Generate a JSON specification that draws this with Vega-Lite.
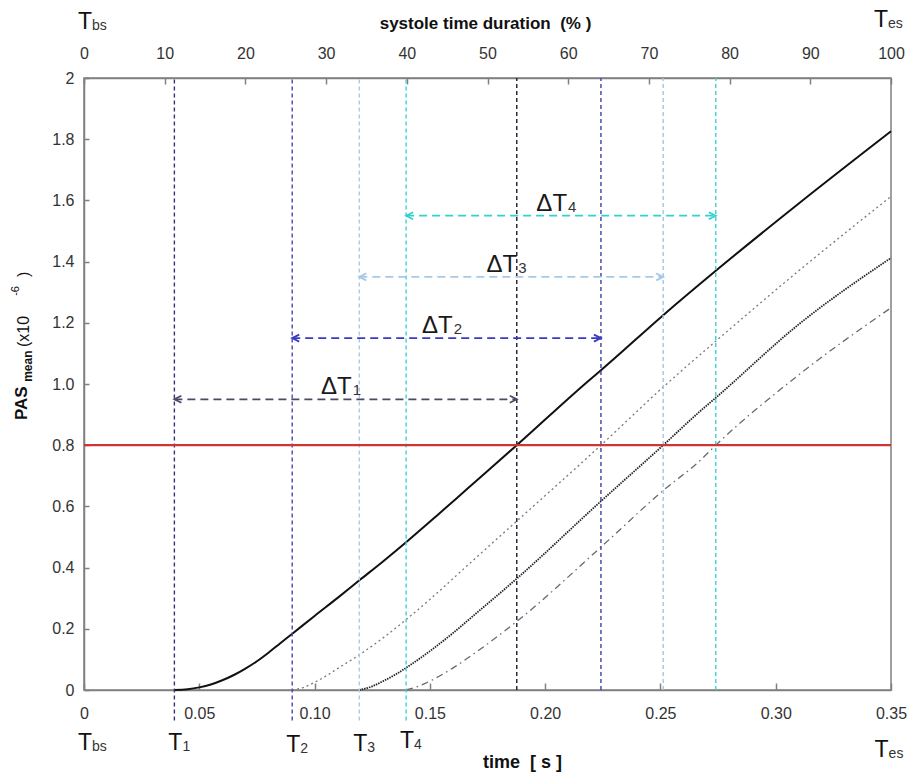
{
  "$schema": "https://vega.github.io/schema/vega-lite/v6.json",
  "width": 807,
  "height": 612,
  "autosize": {"type": "none"},
  "padding": {"left": 84, "top": 78, "right": 21, "bottom": 84},
  "background": "white",
  "config": {"font": "Liberation Sans", "view": {"stroke": "#808080", "strokeWidth": 1.5}},
  "datasets": {
    "curves": [
      {"c": "c1", "t": 0.0392, "v": 0}, {"c": "c1", "t": 0.045, "v": 0.0025}, {"c": "c1", "t": 0.05, "v": 0.0086},
      {"c": "c1", "t": 0.055, "v": 0.018}, {"c": "c1", "t": 0.06, "v": 0.032}, {"c": "c1", "t": 0.065, "v": 0.049},
      {"c": "c1", "t": 0.07, "v": 0.07}, {"c": "c1", "t": 0.075, "v": 0.094}, {"c": "c1", "t": 0.08, "v": 0.122},
      {"c": "c1", "t": 0.085, "v": 0.152}, {"c": "c1", "t": 0.0902, "v": 0.183}, {"c": "c1", "t": 0.1, "v": 0.242},
      {"c": "c1", "t": 0.11, "v": 0.301}, {"c": "c1", "t": 0.1197, "v": 0.36}, {"c": "c1", "t": 0.1298, "v": 0.421},
      {"c": "c1", "t": 0.1397, "v": 0.483}, {"c": "c1", "t": 0.1529, "v": 0.569}, {"c": "c1", "t": 0.166, "v": 0.656},
      {"c": "c1", "t": 0.1877, "v": 0.8}, {"c": "c1", "t": 0.2195, "v": 1.015}, {"c": "c1", "t": 0.2242, "v": 1.045},
      {"c": "c1", "t": 0.2512, "v": 1.225}, {"c": "c1", "t": 0.274, "v": 1.37}, {"c": "c1", "t": 0.31, "v": 1.59},
      {"c": "c1", "t": 0.35, "v": 1.826},
      {"c": "c2", "t": 0.0903, "v": 0}, {"c": "c2", "t": 0.095, "v": 0.008}, {"c": "c2", "t": 0.1, "v": 0.025},
      {"c": "c2", "t": 0.105, "v": 0.046}, {"c": "c2", "t": 0.11, "v": 0.07}, {"c": "c2", "t": 0.12, "v": 0.118},
      {"c": "c2", "t": 0.13, "v": 0.172}, {"c": "c2", "t": 0.14, "v": 0.232}, {"c": "c2", "t": 0.15, "v": 0.296},
      {"c": "c2", "t": 0.166, "v": 0.405}, {"c": "c2", "t": 0.1877, "v": 0.552}, {"c": "c2", "t": 0.2242, "v": 0.8},
      {"c": "c2", "t": 0.2512, "v": 0.99}, {"c": "c2", "t": 0.274, "v": 1.14}, {"c": "c2", "t": 0.31, "v": 1.37},
      {"c": "c2", "t": 0.35, "v": 1.613},
      {"c": "c3", "t": 0.1194, "v": 0}, {"c": "c3", "t": 0.125, "v": 0.012}, {"c": "c3", "t": 0.13, "v": 0.03},
      {"c": "c3", "t": 0.135, "v": 0.05}, {"c": "c3", "t": 0.14, "v": 0.074}, {"c": "c3", "t": 0.15, "v": 0.127},
      {"c": "c3", "t": 0.16, "v": 0.186}, {"c": "c3", "t": 0.17, "v": 0.25}, {"c": "c3", "t": 0.1877, "v": 0.364},
      {"c": "c3", "t": 0.2242, "v": 0.617}, {"c": "c3", "t": 0.2512, "v": 0.8}, {"c": "c3", "t": 0.2672, "v": 0.911},
      {"c": "c3", "t": 0.274, "v": 0.955}, {"c": "c3", "t": 0.31, "v": 1.195}, {"c": "c3", "t": 0.35, "v": 1.412},
      {"c": "c4", "t": 0.1397, "v": 0}, {"c": "c4", "t": 0.145, "v": 0.012}, {"c": "c4", "t": 0.1503, "v": 0.03},
      {"c": "c4", "t": 0.1596, "v": 0.07}, {"c": "c4", "t": 0.1703, "v": 0.125}, {"c": "c4", "t": 0.1877, "v": 0.224},
      {"c": "c4", "t": 0.2242, "v": 0.467}, {"c": "c4", "t": 0.2512, "v": 0.652}, {"c": "c4", "t": 0.2672, "v": 0.75},
      {"c": "c4", "t": 0.274, "v": 0.8}, {"c": "c4", "t": 0.31, "v": 1.03}, {"c": "c4", "t": 0.35, "v": 1.249}
    ],
    "vlines": [
      {"id": "T1", "t": 0.0392, "v": -0.1, "v2": 2}, {"id": "T2", "t": 0.0903, "v": -0.1, "v2": 2},
      {"id": "T3", "t": 0.1194, "v": -0.1, "v2": 2}, {"id": "T4", "t": 0.1397, "v": -0.1, "v2": 2},
      {"id": "X1", "t": 0.1877, "v": 0, "v2": 2}, {"id": "X2", "t": 0.2242, "v": 0, "v2": 2},
      {"id": "X3", "t": 0.2512, "v": 0, "v2": 2}, {"id": "X4", "t": 0.274, "v": 0, "v2": 2}
    ],
    "arrows": [
      {"id": "A1", "s": "1", "t": 0.0392, "t2": 0.1877, "v": 0.95, "mid": 0.1135},
      {"id": "A2", "s": "2", "t": 0.0903, "t2": 0.2242, "v": 1.15, "mid": 0.1573},
      {"id": "A3", "s": "3", "t": 0.1194, "t2": 0.2512, "v": 1.35, "mid": 0.1853},
      {"id": "A4", "s": "4", "t": 0.1397, "t2": 0.274, "v": 1.55, "mid": 0.2069}
    ],
    "tlabels": [
      {"s": "bs", "t": 0, "v": -0.196}, {"s": "1", "t": 0.0392, "v": -0.196}, {"s": "2", "t": 0.0903, "v": -0.204},
      {"s": "3", "t": 0.1194, "v": -0.198}, {"s": "4", "t": 0.1397, "v": -0.19}, {"s": "es", "t": 0.3455, "v": -0.218},
      {"s": "bs", "t": 0, "v": 2.16}, {"s": "es", "t": 0.3452, "v": 2.166}
    ]
  },
  "layer": [
    {
      "layer": [
        {
          "data": {"name": "curves"},
          "transform": [{"filter": "datum.c == 'c1'"}],
          "mark": {"type": "line", "color": "#111111", "strokeWidth": 2, "interpolate": "monotone"},
          "encoding": {
            "x": {"field": "t", "type": "quantitative", "scale": {"domain": [0, 0.35], "nice": false, "zero": false},
              "axis": {"orient": "bottom", "values": [0, 0.05, 0.1, 0.15, 0.2, 0.25, 0.3, 0.35],
                "labelExpr": "datum.value == 0 ? '0' : format(datum.value, '.2f')",
                "title": "time\u00a0\u00a0[ s ]", "titleFontSize": 18, "titleFontWeight": "bold", "titleColor": "#111111",
                "titleX": 438, "titleY": 77, "titleBaseline": "alphabetic", "titleAlign": "center",
                "tickSize": -7, "tickColor": "#808080", "tickWidth": 1.5, "domainColor": "#808080", "domainWidth": 1.5,
                "labelFontSize": 16, "labelColor": "#333333", "labelPadding": 22, "labelFlush": false, "labelOverlap": false, "grid": false}},
            "y": {"field": "v", "type": "quantitative", "scale": {"domain": [0, 2], "nice": false},
              "axis": {"orient": "left", "values": [0, 0.2, 0.4, 0.6, 0.8, 1, 1.2, 1.4, 1.6, 1.8, 2],
                "labelExpr": "datum.value == 0 ? '0' : datum.value == 2 ? '2' : format(datum.value, '.1f')",
                "title": null, "tickSize": -5, "tickColor": "#808080", "tickWidth": 1.5, "domainColor": "#808080", "domainWidth": 1.5,
                "labelFontSize": 16, "labelColor": "#333333", "labelPadding": 15, "labelFlush": false, "labelOverlap": false, "grid": false}}
          }
        },
        {
          "data": {"name": "curves"},
          "transform": [{"filter": "datum.c == 'c2'"}],
          "mark": {"type": "line", "color": "#7a7a7a", "strokeWidth": 1.3, "strokeDash": [2, 3], "interpolate": "monotone"},
          "encoding": {
            "x": {"field": "t", "type": "quantitative", "scale": {"domain": [0, 0.35], "nice": false, "zero": false}},
            "y": {"field": "v", "type": "quantitative", "scale": {"domain": [0, 2], "nice": false}}
          }
        },
        {
          "data": {"name": "curves"},
          "transform": [{"filter": "datum.c == 'c3'"}],
          "mark": {"type": "line", "color": "#222222", "strokeWidth": 1.8, "strokeDash": [1.5, 1], "interpolate": "monotone"},
          "encoding": {
            "x": {"field": "t", "type": "quantitative", "scale": {"domain": [0, 0.35], "nice": false, "zero": false}},
            "y": {"field": "v", "type": "quantitative", "scale": {"domain": [0, 2], "nice": false}}
          }
        },
        {
          "data": {"name": "curves"},
          "transform": [{"filter": "datum.c == 'c4'"}],
          "mark": {"type": "line", "color": "#6a6a6a", "strokeWidth": 1.3, "strokeDash": [7, 4, 1.5, 4], "interpolate": "monotone"},
          "encoding": {
            "x": {"field": "t", "type": "quantitative", "scale": {"domain": [0, 0.35], "nice": false, "zero": false}},
            "y": {"field": "v", "type": "quantitative", "scale": {"domain": [0, 2], "nice": false}}
          }
        },
        {
          "data": {"name": "vlines"},
          "mark": {"type": "rule", "strokeWidth": 1.4, "strokeDash": [4, 3]},
          "encoding": {
            "x": {"field": "t", "type": "quantitative", "scale": {"domain": [0, 0.35], "nice": false, "zero": false}},
            "y": {"field": "v", "type": "quantitative", "scale": {"domain": [0, 2], "nice": false}},
            "y2": {"field": "v2"},
            "color": {"field": "id", "type": "nominal", "legend": null,
              "scale": {"domain": ["T1", "T2", "T3", "T4", "X1", "X2", "X3", "X4", "A1", "A2", "A3", "A4"],
                "range": ["#34347a", "#4848b4", "#aacbe8", "#3fd4d4", "#1c1c30", "#4040aa", "#a4c6e6", "#3cd2d2", "#4a4a66", "#3a3ac4", "#a8c8e8", "#33d0d0"]}}
          }
        },
        {
          "data": {"values": [{"v": 0.8}]},
          "mark": {"type": "rule", "color": "#d03535", "strokeWidth": 2.2},
          "encoding": {
            "y": {"field": "v", "type": "quantitative", "scale": {"domain": [0, 2], "nice": false}}
          }
        },
        {
          "data": {"name": "arrows"},
          "mark": {"type": "rule", "strokeWidth": 1.8, "strokeDash": [8, 5]},
          "encoding": {
            "x": {"field": "t", "type": "quantitative", "scale": {"domain": [0, 0.35], "nice": false, "zero": false}},
            "x2": {"field": "t2"},
            "y": {"field": "v", "type": "quantitative", "scale": {"domain": [0, 2], "nice": false}},
            "color": {"field": "id", "type": "nominal", "legend": null,
              "scale": {"domain": ["T1", "T2", "T3", "T4", "X1", "X2", "X3", "X4", "A1", "A2", "A3", "A4"],
                "range": ["#34347a", "#4848b4", "#aacbe8", "#3fd4d4", "#1c1c30", "#4040aa", "#a4c6e6", "#3cd2d2", "#4a4a66", "#3a3ac4", "#a8c8e8", "#33d0d0"]}}
          }
        },
        {
          "data": {"name": "arrows"},
          "mark": {"type": "point", "shape": "M 1 -0.5 L 0 0 L 1 0.5", "filled": false, "strokeWidth": 1.8, "size": 196, "opacity": 1},
          "encoding": {
            "x": {"field": "t", "type": "quantitative", "scale": {"domain": [0, 0.35], "nice": false, "zero": false}},
            "y": {"field": "v", "type": "quantitative", "scale": {"domain": [0, 2], "nice": false}},
            "color": {"field": "id", "type": "nominal", "legend": null,
              "scale": {"domain": ["T1", "T2", "T3", "T4", "X1", "X2", "X3", "X4", "A1", "A2", "A3", "A4"],
                "range": ["#34347a", "#4848b4", "#aacbe8", "#3fd4d4", "#1c1c30", "#4040aa", "#a4c6e6", "#3cd2d2", "#4a4a66", "#3a3ac4", "#a8c8e8", "#33d0d0"]}}
          }
        },
        {
          "data": {"name": "arrows"},
          "mark": {"type": "point", "shape": "M -1 -0.5 L 0 0 L -1 0.5", "filled": false, "strokeWidth": 1.8, "size": 196, "opacity": 1},
          "encoding": {
            "x": {"field": "t2", "type": "quantitative", "scale": {"domain": [0, 0.35], "nice": false, "zero": false}},
            "y": {"field": "v", "type": "quantitative", "scale": {"domain": [0, 2], "nice": false}},
            "color": {"field": "id", "type": "nominal", "legend": null,
              "scale": {"domain": ["T1", "T2", "T3", "T4", "X1", "X2", "X3", "X4", "A1", "A2", "A3", "A4"],
                "range": ["#34347a", "#4848b4", "#aacbe8", "#3fd4d4", "#1c1c30", "#4040aa", "#a4c6e6", "#3cd2d2", "#4a4a66", "#3a3ac4", "#a8c8e8", "#33d0d0"]}}
          }
        },
        {
          "data": {"name": "arrows"},
          "mark": {"type": "text", "text": "ΔT", "align": "right", "baseline": "alphabetic", "dx": 6, "dy": -5, "fontSize": 24, "color": "#1a1a1a"},
          "encoding": {
            "x": {"field": "mid", "type": "quantitative", "scale": {"domain": [0, 0.35], "nice": false, "zero": false}},
            "y": {"field": "v", "type": "quantitative", "scale": {"domain": [0, 2], "nice": false}}
          }
        },
        {
          "data": {"name": "arrows"},
          "mark": {"type": "text", "align": "left", "baseline": "alphabetic", "dx": 7, "dy": -4, "fontSize": 15, "color": "#333333"},
          "encoding": {
            "x": {"field": "mid", "type": "quantitative", "scale": {"domain": [0, 0.35], "nice": false, "zero": false}},
            "y": {"field": "v", "type": "quantitative", "scale": {"domain": [0, 2], "nice": false}},
            "text": {"field": "s"}
          }
        },
        {
          "data": {"name": "tlabels"},
          "mark": {"type": "text", "text": "T", "align": "center", "baseline": "alphabetic", "dx": 1, "fontSize": 23, "color": "#111111"},
          "encoding": {
            "x": {"field": "t", "type": "quantitative", "scale": {"domain": [0, 0.35], "nice": false, "zero": false}},
            "y": {"field": "v", "type": "quantitative", "scale": {"domain": [0, 2], "nice": false}}
          }
        },
        {
          "data": {"name": "tlabels"},
          "mark": {"type": "text", "align": "left", "baseline": "alphabetic", "dx": 8, "dy": 1, "fontSize": 14, "color": "#333333"},
          "encoding": {
            "x": {"field": "t", "type": "quantitative", "scale": {"domain": [0, 0.35], "nice": false, "zero": false}},
            "y": {"field": "v", "type": "quantitative", "scale": {"domain": [0, 2], "nice": false}},
            "text": {"field": "s"}
          }
        },
        {
          "data": {"values": [{"t": -0.0247, "v": 0.882}]},
          "mark": {"type": "text", "text": "PAS", "angle": 270, "align": "left", "baseline": "alphabetic", "fontSize": 17, "fontWeight": "bold", "color": "#111111"},
          "encoding": {
            "x": {"field": "t", "type": "quantitative", "scale": {"domain": [0, 0.35], "nice": false, "zero": false}},
            "y": {"field": "v", "type": "quantitative", "scale": {"domain": [0, 2], "nice": false}}
          }
        },
        {
          "data": {"values": [{"t": -0.0226, "v": 1.007}]},
          "mark": {"type": "text", "text": "mean", "angle": 270, "align": "left", "baseline": "alphabetic", "fontSize": 12, "fontWeight": "bold", "color": "#111111"},
          "encoding": {
            "x": {"field": "t", "type": "quantitative", "scale": {"domain": [0, 0.35], "nice": false, "zero": false}},
            "y": {"field": "v", "type": "quantitative", "scale": {"domain": [0, 2], "nice": false}}
          }
        },
        {
          "data": {"values": [{"t": -0.0239, "v": 1.121}]},
          "mark": {"type": "text", "text": "(x10", "angle": 270, "align": "left", "baseline": "alphabetic", "fontSize": 16, "color": "#111111"},
          "encoding": {
            "x": {"field": "t", "type": "quantitative", "scale": {"domain": [0, 0.35], "nice": false, "zero": false}},
            "y": {"field": "v", "type": "quantitative", "scale": {"domain": [0, 2], "nice": false}}
          }
        },
        {
          "data": {"values": [{"t": -0.0282, "v": 1.288}]},
          "mark": {"type": "text", "text": "-6", "angle": 270, "align": "left", "baseline": "alphabetic", "fontSize": 11, "color": "#111111"},
          "encoding": {
            "x": {"field": "t", "type": "quantitative", "scale": {"domain": [0, 0.35], "nice": false, "zero": false}},
            "y": {"field": "v", "type": "quantitative", "scale": {"domain": [0, 2], "nice": false}}
          }
        },
        {
          "data": {"values": [{"t": -0.0239, "v": 1.35}]},
          "mark": {"type": "text", "text": ")", "angle": 270, "align": "left", "baseline": "alphabetic", "fontSize": 16, "color": "#111111"},
          "encoding": {
            "x": {"field": "t", "type": "quantitative", "scale": {"domain": [0, 0.35], "nice": false, "zero": false}},
            "y": {"field": "v", "type": "quantitative", "scale": {"domain": [0, 2], "nice": false}}
          }
        }
      ]
    },
    {
      "data": {"values": [{"p": 0}, {"p": 100}]},
      "mark": {"type": "point", "opacity": 0},
      "encoding": {
        "x": {"field": "p", "type": "quantitative", "scale": {"domain": [0, 100], "nice": false, "zero": false},
          "axis": {"orient": "top", "values": [0, 10, 20, 30, 40, 50, 60, 70, 80, 90, 100],
            "title": "systole time duration\u00a0\u00a0(% )", "titleFontSize": 17, "titleFontWeight": "bold", "titleColor": "#111111",
            "titleX": 401, "titleY": -50, "titleBaseline": "alphabetic", "titleAlign": "center",
            "tickSize": -6, "tickColor": "#808080", "tickWidth": 1.5, "domainColor": "#808080", "domainWidth": 1.5,
            "labelFontSize": 16, "labelColor": "#333333", "labelPadding": 23, "labelFlush": false, "labelOverlap": false, "grid": false}}
      }
    }
  ],
  "resolve": {"scale": {"x": "independent"}, "axis": {"x": "independent"}}
}
